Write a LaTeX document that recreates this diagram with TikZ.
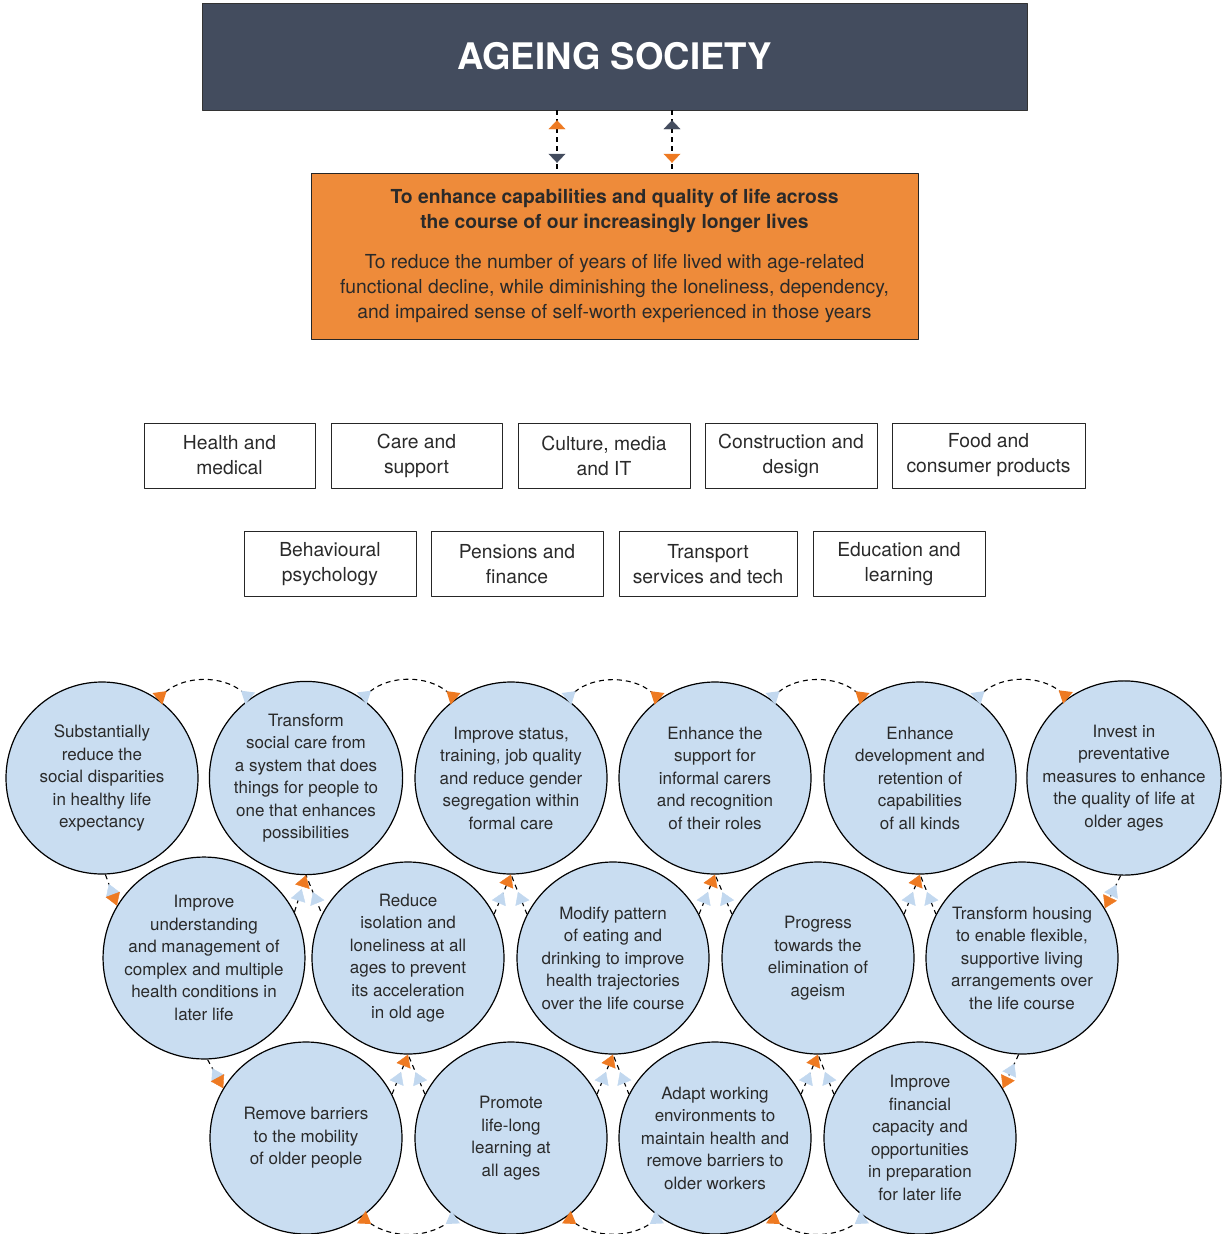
\documentclass[tikz,border=0pt]{standalone}
\usepackage{fontspec}
\setmainfont{TeX Gyre Heros}
\usetikzlibrary{arrows.meta}
\definecolor{navy}{HTML}{434C5E}
\definecolor{aorange}{HTML}{EE8B3A}
\definecolor{torange}{HTML}{EE7A22}
\definecolor{cblue}{HTML}{C9DDF1}
\definecolor{tblue}{HTML}{C2D8EF}
\definecolor{ink}{HTML}{2A2A2A}
\begin{document}
\begin{tikzpicture}[x=1pt,y=-1pt,line join=round,
    font=\fontsize{19.3}{25}\selectfont,
    tipO/.tip={Triangle[color=torange,width=15pt,length=12pt]},
    tipB/.tip={Triangle[color=tblue,width=15pt,length=12pt]},
    tipBr/.tip={Triangle[color=tblue,width=15pt,length=12pt,reversed]},
    tipOr/.tip={Triangle[color=torange,width=15pt,length=12pt,reversed]},
    headO/.tip={Triangle[color=torange,width=17pt,length=9pt]},
    headN/.tip={Triangle[color=navy,width=17pt,length=9pt]},
    link/.style={line width=1.1pt,dash pattern=on 5pt off 4pt},
    sector/.style={draw=black!85,line width=1pt,minimum width=#1,minimum height=65pt,align=center,text=ink},
    goal/.style={circle,draw=black,line width=1.2pt,fill=cblue,minimum size=192pt,inner sep=0pt,align=center,text=ink,font=\fontsize{17}{22.5}\selectfont}]
\useasboundingbox (0,0) rectangle (1226,1234);
% top boxes
\node[fill=navy,draw=black!80,minimum width=825pt,minimum height=107pt,text=white,font=\fontsize{36.6}{40}\selectfont\bfseries] (head) at (614.5,56.5) {AGEING SOCIETY};
\node[fill=aorange,draw=black!85,minimum width=607pt,minimum height=166pt,align=center,text=ink] (aim) at (614.5,256)
  {\textbf{To enhance capabilities and quality of life across}\\
   \textbf{the course of our increasingly longer lives}\\[15pt]
   To reduce the number of years of life lived with age-related\\
   functional decline, while diminishing the loneliness, dependency,\\
   and impaired sense of self-worth experienced in those years};
\coordinate (l) at (557,0);
\coordinate (r) at (672,0);
\draw[link] (head.south -| l) -- (aim.north -| l);
\draw[link] (head.south -| r) -- (aim.north -| r);
\path[tips,shorten <=10pt,shorten >=10pt,headO-headN] (head.south -| l) -- (aim.north -| l);
\path[tips,shorten <=10pt,shorten >=10pt,headN-headO] (head.south -| r) -- (aim.north -| r);
% sectors
\foreach \n/\p/\w/\t in {s1/{229.5,455.5}/171pt/{Health and\\medical},
    s2/{416.5,455.5}/171pt/{Care and\\support},
    s3/{604,455.5}/172pt/{Culture, media\\and IT},
    s4/{791,455.5}/172pt/{Construction and\\design},
    s5/{988.5,455.5}/193pt/{Food and\\consumer products},
    s6/{330,564}/172pt/{Behavioural\\psychology},
    s7/{517,564}/172pt/{Pensions and\\finance},
    s8/{708,564}/178pt/{Transport\\services and tech},
    s9/{899,564}/172pt/{Education and\\learning}}
  \node[sector=\w] (\n) at (\p) {\t};
% goals
\foreach \n/\p/\t in {t1/{102,778}/{Substantially\\reduce the\\social disparities\\in healthy life\\expectancy},
    t2/{306,778}/{Transform\\social care from\\a system that does\\things for people to\\one that enhances\\possibilities},
    t3/{511,778}/{Improve status,\\training, job quality\\and reduce gender\\segregation within\\formal care},
    t4/{715,778}/{Enhance the\\support for\\informal carers\\and recognition\\of their roles},
    t5/{920,778}/{Enhance\\development and\\retention of\\capabilities\\of all kinds},
    t6/{1124,778}/{Invest in\\preventative\\measures to enhance\\the quality of life at\\older ages},
    m1/{204,958}/{Improve\\understanding\\and management of\\complex and multiple\\health conditions in\\later life},
    m2/{408,958}/{Reduce\\isolation and\\loneliness at all\\ages to prevent\\its acceleration\\in old age},
    m3/{613,958}/{Modify pattern\\of eating and\\drinking to improve\\health trajectories\\over the life course},
    m4/{818,958}/{Progress\\towards the\\elimination of\\ageism},
    m5/{1022,958}/{Transform housing\\to enable flexible,\\supportive living\\arrangements over\\the life course},
    b1/{306,1138}/{Remove barriers\\to the mobility\\of older people},
    b2/{511,1138}/{Promote\\life-long\\learning at\\all ages},
    b3/{715,1138}/{Adapt working\\environments to\\maintain health and\\remove barriers to\\older workers},
    b4/{920,1138}/{Improve\\financial\\capacity and\\opportunities\\in preparation\\for later life}}
  \node[goal] (\n) at (\p) {\t};
% arcs along the top and the bottom
\draw[link,tipOr-tipBr] (t1.55) to[bend left=40] (t2.125);
\foreach \a/\b in {t2/t3,t3/t4,t4/t5,t5/t6}
  \draw[link,tipBr-tipOr] (\a.55) to[bend left=40] (\b.125);
\foreach \a/\b in {b1/b2,b2/b3,b3/b4}
  \draw[link,tipOr-tipBr] (\a.305) to[bend right=35] (\b.235);
% links between the rows
\foreach \u/\l/\r in {t2/m1/m2,t3/m2/m3,t4/m3/m4,t5/m4/m5,m2/b1/b2,m3/b2/b3,m4/b3/b4}{
  \draw[link] (\l.27) -- (\u.south) -- (\r.153);
  \path[tips,shorten <=12pt,tipBr-tipO] (\l.27) -- (\u.south);
  \path[tips,shorten <=12pt,tipBr-] (\r.153) -- (\u.south);
}
\foreach \u/\d/\a/\b in {t1/m1/272/149,m1/b1/272/149,t6/m5/268/31,m5/b4/268/31}{
  \draw[link] (\u.\a) -- (\d.\b);
  \path[tips,shorten <=10pt,tipB-tipO] (\u.\a) -- (\d.\b);
}
\end{tikzpicture}
\end{document}
